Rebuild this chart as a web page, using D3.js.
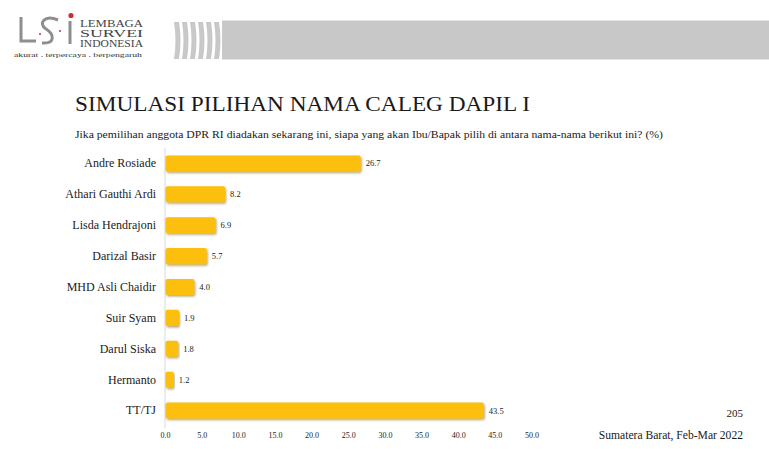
<!DOCTYPE html>
<html>
<head>
<meta charset="utf-8">
<script src="https://cdn.jsdelivr.net/npm/d3@7"></script>
<style>
  html, body { margin: 0; padding: 0; background: #fff; }
  svg { display: block; }
  text { font-family: "Liberation Serif", "Times New Roman", serif; fill: #1a1a1a; }
</style>
</head>
<body>
<svg id="chart" width="769" height="449"></svg>
<script>
const categories = ["Andre Rosiade", "Athari Gauthi Ardi", "Lisda Hendrajoni", "Darizal Basir",
  "MHD Asli Chaidir", "Suir Syam", "Darul Siska", "Hermanto", "TT/TJ"];
const values = [26.7, 8.2, 6.9, 5.7, 4.0, 1.9, 1.8, 1.2, 43.5];
const xTicks = [0, 5, 10, 15, 20, 25, 30, 35, 40, 45, 50];
const titleText = "SIMULASI PILIHAN NAMA CALEG DAPIL I";
const subtitleText = "Jika pemilihan anggota DPR RI diadakan sekarang ini, siapa yang akan Ibu/Bapak pilih di antara nama-nama berikut ini?  (%)";
const pageNumber = "205";
const footerText = "Sumatera Barat, Feb-Mar 2022";
const logoLines = ["LEMBAGA", "SURVEI", "INDONESIA"];
const tagline = "akurat . terpercaya . berpengaruh";

const svg = d3.select("#chart");
const defs = svg.append("defs");
const f = defs.append("filter").attr("id", "shadow")
  .attr("x", "-5%").attr("y", "-20%").attr("width", "115%").attr("height", "160%");
f.append("feDropShadow").attr("dx", 1).attr("dy", 1.5).attr("stdDeviation", 0.8)
  .attr("flood-color", "#7a5c00").attr("flood-opacity", 0.55);

// ---------- Header ----------
const header = svg.append("g");
header.append("rect").attr("x", 222).attr("y", 21).attr("width", 547).attr("height", 38).attr("fill", "#c8c8c8");
header.append("line").attr("x1", 222).attr("x2", 769).attr("y1", 20.5).attr("y2", 20.5).attr("stroke", "#e2e2e2");
header.append("line").attr("x1", 222).attr("x2", 769).attr("y1", 59.5).attr("y2", 59.5).attr("stroke", "#e2e2e2");
d3.range(6).forEach(i => {
  const x0 = 174 + i * 8;
  header.append("path")
    .attr("d", `M${x0},22 Q${x0 + 3},40 ${x0},59 L${x0 + 5},59 Q${x0 + 8},40 ${x0 + 5},22 Z`)
    .attr("fill", "#c8c8c8");
});

// Logo
const logo = svg.append("g");
logo.append("path").attr("d", "M21,17 V41 H36").attr("fill", "none").attr("stroke", "#8e8e8e").attr("stroke-width", 3);
logo.append("path").attr("d", "M58,20 C44,14 38,24 46,29 C54,34 56,44 42,43")
  .attr("fill", "none").attr("stroke", "#8e8e8e").attr("stroke-width", 3);
logo.append("path").attr("d", "M70,21 V44").attr("stroke", "#8e8e8e").attr("stroke-width", 3);
logo.append("circle").attr("cx", 71).attr("cy", 15.5).attr("r", 2.6).attr("fill", "#d42a2a");
logo.append("circle").attr("cx", 40).attr("cy", 34).attr("r", 1).attr("fill", "#d42a2a");
logo.append("circle").attr("cx", 60).attr("cy", 31).attr("r", 1).attr("fill", "#d42a2a");
logoLines.forEach((t, i) => {
  logo.append("text").attr("x", 80).attr("y", 27 + i * 10)
    .attr("font-size", 9.5).attr("textLength", 63).attr("lengthAdjust", "spacingAndGlyphs")
    .style("fill", "#444").text(t);
});
logo.append("text").attr("x", 14).attr("y", 57).attr("font-size", 6)
  .attr("textLength", 128).attr("lengthAdjust", "spacingAndGlyphs").style("fill", "#333").text(tagline);

// ---------- Titles ----------
svg.append("text").attr("x", 75).attr("y", 111).attr("font-size", 21)
  .attr("textLength", 455).attr("lengthAdjust", "spacingAndGlyphs").text(titleText);
svg.append("text").attr("x", 75).attr("y", 138).attr("font-size", 10.5)
  .attr("textLength", 588).attr("lengthAdjust", "spacingAndGlyphs").text(subtitleText);

// ---------- Chart ----------
const x = d3.scaleLinear().domain([0, 50]).range([165, 531.5]);
const y = d3.scaleBand().domain(categories).range([148, 426]).paddingInner(0.48).paddingOuter(0.24);

const yAxis = svg.append("g").attr("transform", `translate(${x(0)},0)`)
  .call(d3.axisLeft(y).tickSize(0).tickSizeOuter(0).tickPadding(9));
yAxis.select(".domain").attr("stroke", "#d9d9d9").attr("d", "M0,148V428");
yAxis.selectAll("text").attr("font-size", 12).attr("font-family", "Liberation Serif, serif").style("fill", "#1a1a1a");

const xAxis = svg.append("g").attr("transform", "translate(0,430)")
  .call(d3.axisBottom(x).tickValues(xTicks).tickFormat(d3.format(".1f")).tickSize(0).tickPadding(2));
xAxis.select(".domain").remove();
xAxis.attr("color", "#1a1a1a");
xAxis.selectAll("text").attr("font-size", 8).attr("font-family", "Liberation Serif, serif").style("fill", "#1a1a1a");

const data = categories.map((c, i) => ({ c, v: values[i] }));
svg.append("g").selectAll("rect").data(data).join("rect")
  .attr("x", x(0) + 0.5)
  .attr("y", d => y(d.c))
  .attr("width", d => x(d.v) - x(0) - 0.5)
  .attr("height", y.bandwidth())
  .attr("rx", 2)
  .attr("fill", "#fcbf0b")
  .attr("filter", "url(#shadow)");

svg.append("g").selectAll("text").data(data).join("text")
  .attr("x", d => x(d.v) + 5)
  .attr("y", d => y(d.c) + y.bandwidth() / 2)
  .attr("dy", "0.35em")
  .attr("font-size", 8.5)
  .text(d => d3.format(".1f")(d.v));

// ---------- Footer ----------
svg.append("text").attr("x", 743).attr("y", 417).attr("text-anchor", "end").attr("font-size", 11).text(pageNumber);
svg.append("text").attr("x", 743).attr("y", 439).attr("text-anchor", "end").attr("font-size", 11.6).text(footerText);
</script>
</body>
</html>
